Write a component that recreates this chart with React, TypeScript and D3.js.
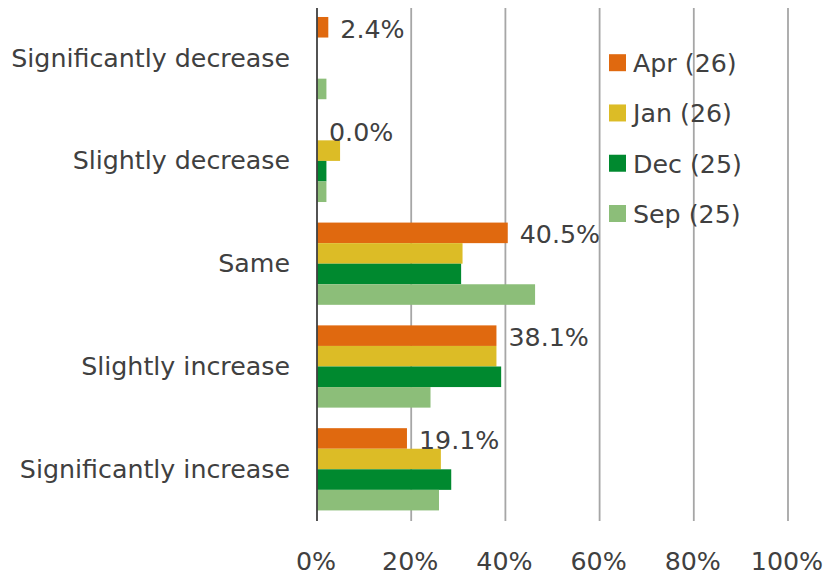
import React from "react";
import * as d3 from "d3";

const categories = [
  "Significantly decrease",
  "Slightly decrease",
  "Same",
  "Slightly increase",
  "Significantly increase",
];
const seriesNames = ["Apr (26)", "Jan (26)", "Dec (25)", "Sep (25)"];
const seriesColors = ["#E0690F", "#DCBC26", "#00892F", "#8CBE79"];
const apr26 = [2.4, 0.0, 40.5, 38.1, 19.1];
const jan26 = [0.0, 4.9, 30.9, 38.1, 26.3];
const dec25 = [0.0, 2.0, 30.6, 39.1, 28.5];
const sep25 = [2.0, 2.0, 46.3, 24.1, 25.9];
const seriesValues = [apr26, jan26, dec25, sep25];
const xTicks = [0, 20, 40, 60, 80, 100];

const W = 829;
const H = 576;
const FONT = "'DejaVu Sans', Verdana, sans-serif";
const TEXT = "#404040";

export default function App() {
  const x = d3.scaleLinear().domain([0, 100]).range([317, 788]);
  const y = d3
    .scaleBand<string>()
    .domain(categories)
    .range([6.7, 520.7])
    .paddingInner(0.2)
    .paddingOuter(0.1);
  const inner = d3
    .scaleBand<string>()
    .domain(seriesNames)
    .range([0, y.bandwidth()]);
  const legendY = d3.scalePoint<string>().domain(seriesNames).range([62.7, 213.5]);

  return (
    <svg
      width={W}
      height={H}
      style={{ position: "absolute", left: 0, top: 0, background: "#fff" }}
      fontFamily={FONT}
    >
      {xTicks.map((t) =>
        t === 0 ? null : (
          <line
            key={"g" + t}
            x1={x(t)}
            x2={x(t)}
            y1={8}
            y2={521}
            stroke="#A6A6A6"
            strokeWidth={1.8}
          />
        )
      )}
      {seriesValues.map((vals, si) =>
        vals.map((v, ci) => (
          <rect
            key={`b${si}-${ci}`}
            x={x(0)}
            y={(y(categories[ci]) as number) + (inner(seriesNames[si]) as number)}
            width={x(v) - x(0)}
            height={inner.bandwidth()}
            fill={seriesColors[si]}
          />
        ))
      )}
      <line x1={x(0)} x2={x(0)} y1={8} y2={521} stroke="#404040" strokeWidth={1.8} />
      {categories.map((c) => (
        <text
          key={"c" + c}
          x={290}
          y={(y(c) as number) + y.bandwidth() / 2}
          textAnchor="end"
          dominantBaseline="central"
          fontSize={25.3}
          fill={TEXT}
        >
          {c}
        </text>
      ))}
      {apr26.map((v, ci) => (
        <text
          key={"l" + ci}
          x={x(v) + 12}
          y={(y(categories[ci]) as number) + (inner(seriesNames[0]) as number) + inner.bandwidth() / 2 + 2}
          dominantBaseline="central"
          fontSize={25.3}
          fill={TEXT}
        >
          {v.toFixed(1) + "%"}
        </text>
      ))}
      {xTicks.map((t) => (
        <text
          key={"t" + t}
          x={x(t) - 1}
          y={569.5}
          textAnchor="middle"
          fontSize={25.3}
          fill={TEXT}
        >
          {t + "%"}
        </text>
      ))}
      {seriesNames.map((s, i) => (
        <g key={"lg" + s}>
          <rect
            x={609}
            y={(legendY(s) as number) - 8.5}
            width={17}
            height={17}
            fill={seriesColors[i]}
          />
          <text
            x={633}
            y={(legendY(s) as number) + 1}
            dominantBaseline="central"
            fontSize={25.3}
            fill={TEXT}
          >
            {s}
          </text>
        </g>
      ))}
    </svg>
  );
}
